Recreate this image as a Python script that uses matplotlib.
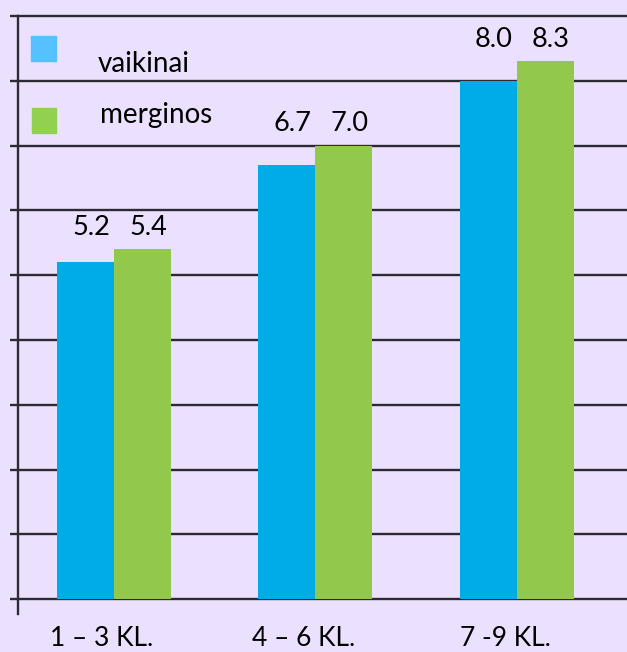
import matplotlib
matplotlib.use("Agg")
import matplotlib.pyplot as plt
import matplotlib.transforms as mtransforms
from matplotlib.patches import Rectangle
import numpy as np

# data
groups = ["1 – 3 KL.", "4 – 6 KL.", "7 -9 KL."]
vaikinai = [5.2, 6.7, 8.0]
merginos = [5.4, 7.0, 8.3]
series_names = ["vaikinai", "merginos"]

bg = "#EBE0FD"
bar_blue = "#00ACE6"
bar_green = "#92C84B"
leg_blue = "#55C1FF"
leg_green = "#92D050"
line_col = "#2E2A33"

plt.rcParams['font.family'] = ['Lato', 'DejaVu Sans']

W, H = 627, 652
fig = plt.figure(figsize=(W / 100, H / 100), dpi=100, facecolor=bg)
ax = fig.add_axes([18 / W, (H - 614) / H, (W - 18) / W, (614 - 16) / H])
ax.set_facecolor(bg)

x = np.arange(len(groups))
width = 0.283
ax.bar(x - width / 2, vaikinai, width, color=bar_blue, zorder=3)
ax.bar(x + width / 2, merginos, width, color=bar_green, zorder=3)

for i in range(len(groups)):
    top = max(vaikinai[i], merginos[i])
    ax.annotate(f"{vaikinai[i]:.1f}", (x[i] - width / 2, top), xytext=(4, 7),
                textcoords="offset points", ha="center", va="bottom", fontsize=19.5)
    ax.annotate(f"{merginos[i]:.1f}", (x[i] + width / 2, top), xytext=(4, 7),
                textcoords="offset points", ha="center", va="bottom", fontsize=19.5)

ax.set_xlim(-0.476, 2.546)
ax.set_ylim(-0.23, 9)
for yv in range(0, 10):
    ax.axhline(yv, color=line_col, lw=1.7, zorder=2, clip_on=False)

ax.set_yticks(range(0, 10))
ax.set_yticklabels([])
ax.tick_params(axis="y", direction="out", length=6, width=1.7, color=line_col)
for s in ["top", "right", "bottom"]:
    ax.spines[s].set_visible(False)
ax.spines["left"].set_color(line_col)
ax.spines["left"].set_linewidth(1.7)

ax.set_xticks(x)
ax.set_xticklabels(groups, fontsize=19)
ax.tick_params(axis="x", length=0, pad=9)
shift = mtransforms.ScaledTranslation(-12 / 100, 0, fig.dpi_scale_trans)
for lab in ax.get_xticklabels():
    lab.set_transform(lab.get_transform() + shift)

# legend drawn by hand (loose layout in the original)
fig.patches.append(Rectangle((31 / W, (H - 61) / H), 25 / W, 25 / H,
                             transform=fig.transFigure, color=leg_blue))
fig.patches.append(Rectangle((32 / W, (H - 133) / H), 24 / W, 25 / H,
                             transform=fig.transFigure, color=leg_green))
fig.text(98 / W, (H - 72) / H, series_names[0], fontsize=20, va="baseline")
fig.text(100 / W, (H - 123) / H, series_names[1], fontsize=20, va="baseline")

fig.savefig("out.png", dpi=100, facecolor=bg)
